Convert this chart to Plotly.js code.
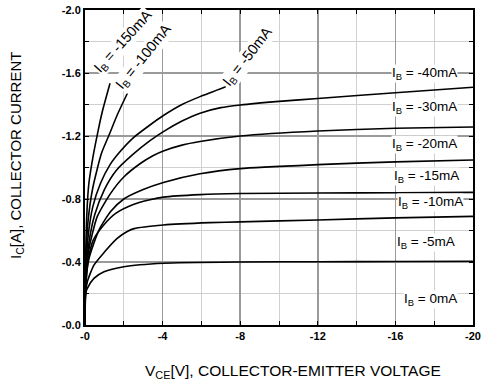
<!DOCTYPE html>
<html>
<head>
<meta charset="utf-8">
<script src="https://cdn.plot.ly/plotly-3.0.1.min.js"></script>
<style>html,body{margin:0;padding:0;background:#fff;}#chart{width:482px;height:386px;}</style>
</head>
<body>
<div id="chart"></div>
<script>
// VCE (V, as magnitude) and IC (A, as magnitude); plotted as negative values
const vce_150 = [0, 0.03, 0.1, 0.2, 0.43, 0.63, 0.89, 1.29];
const ic_150  = [0, 0.40, 0.72, 0.90, 1.08, 1.206, 1.354, 1.535];
const vce_100 = [0, 0.03, 0.15, 0.4, 0.85, 1.24, 1.66, 2.18];
const ic_100  = [0, 0.35, 0.65, 0.87, 1.09, 1.206, 1.333, 1.47];
const vce_50  = [0, 0.03, 0.15, 0.4, 0.8, 1.3, 1.8, 2.5, 3.35, 4.04, 5.0, 5.93, 7.25];
const ic_50   = [0, 0.30, 0.55, 0.75, 0.90, 1.02, 1.10, 1.19, 1.27, 1.33, 1.40, 1.45, 1.513];
const vce_40  = [0, 0.03, 0.2, 0.5, 1.0, 1.6, 2.44, 3.35, 4.04, 5.0, 5.93, 7, 8, 10, 12, 16, 20];
const ic_40   = [0, 0.28, 0.52, 0.70, 0.86, 0.98, 1.08, 1.17, 1.228, 1.295, 1.345, 1.38, 1.397, 1.42, 1.438, 1.475, 1.51];
const vce_30  = [0, 0.03, 0.2, 0.63, 1.32, 2.0, 2.87, 3.5, 4.04, 5.0, 5.93, 8, 12, 16, 20];
const ic_30   = [0, 0.26, 0.48, 0.688, 0.836, 0.94, 1.027, 1.075, 1.105, 1.142, 1.165, 1.20, 1.232, 1.249, 1.257];
const vce_20  = [0, 0.03, 0.2, 0.72, 1.32, 2.0, 3.0, 4.04, 5.93, 8, 12, 16, 20];
const ic_20   = [0, 0.24, 0.42, 0.603, 0.72, 0.80, 0.86, 0.905, 0.96, 0.993, 1.018, 1.036, 1.048];
const vce_15  = [0, 0.03, 0.15, 0.43, 1.0, 1.6, 2.49, 3.35, 4.04, 5.93, 8, 12, 16, 20];
const ic_15   = [0, 0.22, 0.40, 0.54, 0.64, 0.71, 0.765, 0.795, 0.812, 0.828, 0.835, 0.838, 0.84, 0.842];
const vce_10  = [0, 0.03, 0.12, 0.46, 0.98, 1.66, 2.2, 2.53, 4.04, 6.44, 8, 12, 16, 20];
const ic_10   = [0, 0.20, 0.275, 0.38, 0.46, 0.55, 0.595, 0.612, 0.635, 0.65, 0.655, 0.667, 0.68, 0.69];
const vce_5   = [0, 0.03, 0.12, 0.46, 0.98, 2.0, 4.07, 8, 12, 16, 20];
const ic_5    = [0, 0.20, 0.233, 0.296, 0.338, 0.37, 0.392, 0.40, 0.402, 0.403, 0.405];

const xTickVals = [0, -4, -8, -12, -16, -20];
const xTickText = ['-0', '-4', '-8', '-12', '-16', '-20'];
const xMinorVals = [-2, -6, -10, -14, -18];
const yTickVals = [0, -0.4, -0.8, -1.2, -1.6, -2.0];
const yTickText = ['-0.0', '-0.4', '-0.8', '-1.2', '-1.6', '-2.0'];
const yMinorVals = [-0.2, -0.6, -1.0, -1.4, -1.8];

const curveLabels = ['I<sub>B</sub> = -150mA', 'I<sub>B</sub> = -100mA', 'I<sub>B</sub> = -50mA',
  'I<sub>B</sub> = -40mA', 'I<sub>B</sub> = -30mA', 'I<sub>B</sub> = -20mA', 'I<sub>B</sub> = -15mA',
  'I<sub>B</sub> = -10mA', 'I<sub>B</sub> = -5mA', 'I<sub>B</sub> = 0mA'];

const series = [
  [vce_150, ic_150], [vce_100, ic_100], [vce_50, ic_50], [vce_40, ic_40], [vce_30, ic_30],
  [vce_20, ic_20], [vce_15, ic_15], [vce_10, ic_10], [vce_5, ic_5]
];

const neg = a => a.map(v => -v);
const traces = series.map((s, i) => ({
  x: neg(s[0]), y: neg(s[1]), type: 'scatter', mode: 'lines',
  line: {color: '#000', width: 1.6, shape: 'spline', smoothing: 0.6},
  name: curveLabels[i], hoverinfo: 'skip'
}));

const font = 'Liberation Sans, Arial, sans-serif';

function lab(text, x, y, angle, size) {
  return {text: text, x: x, y: y, xref: 'x', yref: 'y', showarrow: false,
    font: {family: font, size: size || 13.5, color: '#000'}, bgcolor: '#fff', borderpad: 0,
    textangle: angle || 0, xanchor: 'center', yanchor: 'middle'};
}

const annotations = [
  lab(curveLabels[0], -1.96, -1.80, -48, 14.5),
  lab(curveLabels[1], -3.04, -1.70, -51, 14.5),
  lab(curveLabels[2], -8.4, -1.70, -52, 14.5),
  lab(curveLabels[3], -17.5, -1.60),
  lab(curveLabels[4], -17.5, -1.378),
  lab(curveLabels[5], -17.5, -1.143),
  lab(curveLabels[6], -17.6, -0.946),
  lab(curveLabels[7], -17.8, -0.775),
  lab(curveLabels[8], -17.6, -0.521),
  lab(curveLabels[9], -17.8, -0.159),
  {text: 'I<sub>C</sub>[A], COLLECTOR CURRENT', xref: 'paper', yref: 'paper', x: -0.175, y: 0.537,
   showarrow: false, textangle: -90, font: {family: font, size: 15, color: '#000'},
   xanchor: 'center', yanchor: 'middle'},
  {text: 'V<sub>CE</sub>[V], COLLECTOR-EMITTER VOLTAGE', xref: 'paper', yref: 'paper', x: 0.536, y: -0.149,
   showarrow: false, font: {family: font, size: 15.5, color: '#000'},
   xanchor: 'center', yanchor: 'middle'}
];

const layout = {
  width: 482, height: 386,
  margin: {l: 85, r: 9, t: 10, b: 61},
  paper_bgcolor: '#fff', plot_bgcolor: '#fff',
  showlegend: false,
  font: {family: font, color: '#000'},
  xaxis: {
    range: [0, -20], tickmode: 'array', tickvals: xTickVals, ticktext: xTickText,
    tickfont: {family: font, size: 11, color: '#000', weight: 'bold'},
    showgrid: true, gridcolor: '#9a9a9a', gridwidth: 1.5,
    ticks: 'inside', ticklen: 4, tickcolor: '#000',
    showline: true, linecolor: '#000', linewidth: 2, mirror: 'allticks', zeroline: false,
    minor: {tickmode: 'array', tickvals: xMinorVals, showgrid: true, gridcolor: '#d0d0d0', gridwidth: 1,
            ticks: 'inside', ticklen: 4, tickcolor: '#000'}
  },
  yaxis: {
    range: [0, -2], tickmode: 'array', tickvals: yTickVals, ticktext: yTickText,
    tickfont: {family: font, size: 11, color: '#000', weight: 'bold'},
    showgrid: true, gridcolor: '#9a9a9a', gridwidth: 1.5,
    ticks: 'inside', ticklen: 4, tickcolor: '#000',
    showline: true, linecolor: '#000', linewidth: 2, mirror: 'allticks', zeroline: false,
    minor: {tickmode: 'array', tickvals: yMinorVals, showgrid: true, gridcolor: '#d0d0d0', gridwidth: 1,
            ticks: 'inside', ticklen: 4, tickcolor: '#000'}
  },
  annotations: annotations
};

Plotly.newPlot('chart', traces, layout, {displayModeBar: false, staticPlot: true});
</script>
</body>
</html>
